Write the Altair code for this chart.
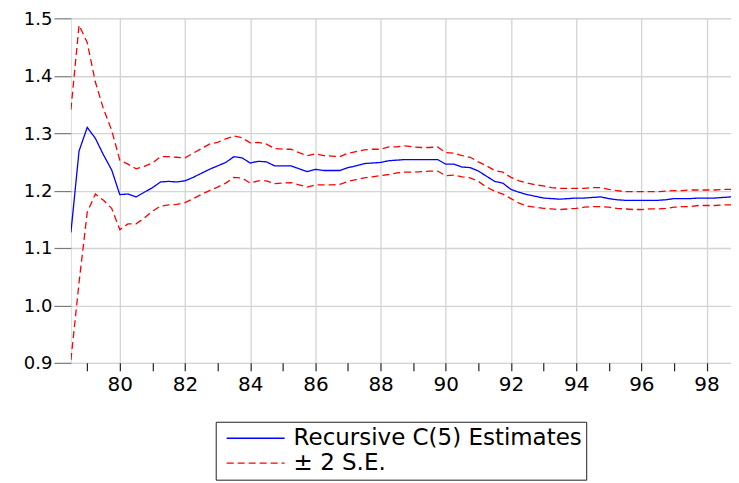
import altair as alt
import pandas as pd

# quarterly observations 1978Q3 .. 1998Q4
start_year, start_q, n_obs = 1978, 3, 82

estimate = [1.127, 1.269, 1.310, 1.291, 1.262, 1.236, 1.193, 1.194, 1.189, 1.197,
            1.205, 1.215, 1.216, 1.215, 1.217, 1.223, 1.230, 1.237, 1.243, 1.249,
            1.259, 1.257, 1.248, 1.251, 1.250, 1.243, 1.243, 1.243, 1.238, 1.233,
            1.237, 1.235, 1.235, 1.235, 1.240, 1.243, 1.247, 1.248, 1.249, 1.252,
            1.253, 1.254, 1.254, 1.254, 1.254, 1.254, 1.246, 1.246, 1.241, 1.240,
            1.234, 1.225, 1.216, 1.213, 1.202, 1.197, 1.193, 1.190, 1.187, 1.186,
            1.185, 1.186, 1.187, 1.187, 1.188, 1.189, 1.186, 1.184, 1.183, 1.183,
            1.183, 1.183, 1.183, 1.184, 1.186, 1.186, 1.186, 1.187, 1.187, 1.187,
            1.188, 1.189]

upper = [1.341, 1.488, 1.458, 1.389, 1.342, 1.305, 1.253, 1.246, 1.238, 1.242,
         1.248, 1.259, 1.259, 1.258, 1.257, 1.265, 1.273, 1.281, 1.284, 1.290,
         1.295, 1.292, 1.283, 1.284, 1.281, 1.273, 1.272, 1.272, 1.266, 1.261,
         1.264, 1.261, 1.260, 1.259, 1.265, 1.268, 1.271, 1.272, 1.272, 1.276,
         1.276, 1.278, 1.276, 1.275, 1.275, 1.276, 1.266, 1.265, 1.261, 1.258,
         1.250, 1.243, 1.235, 1.232, 1.223, 1.217, 1.213, 1.210, 1.208, 1.205,
         1.204, 1.204, 1.204, 1.204, 1.205, 1.205, 1.202, 1.200, 1.198, 1.198,
         1.198, 1.198, 1.198, 1.199, 1.200, 1.200, 1.201, 1.201, 1.201, 1.201,
         1.202, 1.202]

lower = [0.905, 1.040, 1.162, 1.194, 1.183, 1.169, 1.132, 1.142, 1.142, 1.152,
         1.164, 1.173, 1.175, 1.176, 1.179, 1.186, 1.193, 1.200, 1.206, 1.213,
         1.223, 1.222, 1.213, 1.217, 1.217, 1.212, 1.213, 1.214, 1.210, 1.206,
         1.210, 1.210, 1.210, 1.211, 1.216, 1.219, 1.222, 1.224, 1.226, 1.228,
         1.231, 1.232, 1.232, 1.233, 1.234, 1.234, 1.226, 1.227, 1.224, 1.222,
         1.216, 1.206, 1.199, 1.194, 1.186, 1.178, 1.173, 1.171, 1.169, 1.168,
         1.167, 1.168, 1.169, 1.171, 1.172, 1.172, 1.171, 1.169, 1.168, 1.167,
         1.167, 1.168, 1.168, 1.169, 1.171, 1.172, 1.172, 1.174, 1.174, 1.174,
         1.175, 1.175]

series_names = ["Recursive C(5) Estimates", "± 2 S.E."]
y_ticks = [0.9, 1.0, 1.1, 1.2, 1.3, 1.4, 1.5]
x_ticks = list(range(79, 99))

# two-digit year position of each quarter
t = [(start_year - 1900) + (start_q - 1) / 4 + 0.25 * k for k in range(n_obs)]

rows = []
for i in range(n_obs):
    rows.append({"t": t[i], "value": estimate[i], "series": series_names[0], "line": "est"})
    rows.append({"t": t[i], "value": upper[i], "series": series_names[1], "line": "up"})
    rows.append({"t": t[i], "value": lower[i], "series": series_names[1], "line": "lo"})
df = pd.DataFrame(rows)

FONT = "DejaVu Sans"

legend = alt.Legend(
    orient="none", legendX=145, legendY=404, direction="vertical", title=None,
    symbolType="stroke", symbolSize=3364, symbolStrokeWidth=1.3,
    labelFont=FONT, labelFontSize=23, labelColor="black", labelOffset=8,
    labelLimit=0,
    strokeColor="#222222", fillColor="white", padding=4, symbolOffset=6,
    clipHeight=25, rowPadding=0, cornerRadius=0,
)

chart = alt.Chart(df).mark_line(strokeWidth=1.3, clip=True).encode(
    x=alt.X("t:Q",
            scale=alt.Scale(domain=[78.5, 98.75], nice=False, zero=False),
            axis=alt.Axis(values=x_ticks, title=None, domain=False,
                          labelExpr="datum.value % 2 === 0 ? datum.value + '' : ''",
                          tickSize=8, tickColor="#222222", tickWidth=1.2,
                          labelFont=FONT, labelFontSize=20, labelColor="black",
                          labelPadding=4,
                          gridColor="#d4d4d4", gridWidth=1.3,
                          gridOpacity={"condition": {"test": "datum.value % 2 !== 0", "value": 0}, "value": 1})),
    y=alt.Y("value:Q",
            scale=alt.Scale(domain=[0.9, 1.5], nice=False, zero=False),
            axis=alt.Axis(values=y_ticks, format=".1f", title=None, domain=False,
                          tickSize=17, tickColor="#7a7a7a", tickWidth=1.2,
                          labelFont=FONT, labelFontSize=18, labelColor="black",
                          labelPadding=2, labelOffset=1,
                          gridColor="#d4d4d4", gridWidth=1.3)),
    color=alt.Color("series:N",
                    scale=alt.Scale(domain=series_names, range=["#0000ff", "#ff0000"]),
                    legend=legend),
    strokeDash=alt.StrokeDash("series:N",
                              scale=alt.Scale(domain=series_names, range=[[1, 0], [7, 4]]),
                              legend=legend),
    detail="line:N",
).properties(
    width=661, height=345,
    autosize=alt.AutoSizeParams(type="none"),
    padding={"left": 63, "top": 10, "right": 0, "bottom": 118},
).configure_view(
    stroke="#111111", strokeWidth=1.6,
).configure(background="white")

chart.save("out.html", embed_options={"renderer": "svg", "actions": False})
